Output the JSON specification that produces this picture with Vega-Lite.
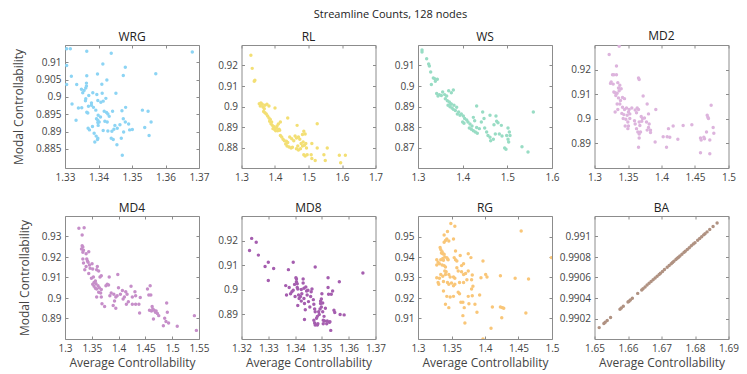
{
"$schema": "https://vega.github.io/schema/vega-lite/v6.json",
"padding": {"left": 12, "top": 8, "right": 8, "bottom": 3},
"title": {"text": "Streamline Counts, 128 nodes", "fontSize": 11, "fontWeight": "normal", "font": "Open Sans", "color": "#222", "anchor": "middle", "offset": 10, "dx": 15},
"config": {
 "font": "Open Sans",
 "view": {"stroke": "#8c8c8c", "strokeWidth": 1},
 "axis": {"grid": false, "domain": false, "tickColor": "#8c8c8c", "tickSize": -3, "labelPadding": 7, "labelFontSize": 10, "labelColor": "#444", "labelFont": "Open Sans", "titleFont": "Open Sans", "titleFontSize": 12, "titleFontWeight": "normal", "titleColor": "#444", "labelOverlap": false, "labelFlush": false},
 "title": {"fontSize": 12, "fontWeight": "normal", "font": "Open Sans", "color": "#222", "offset": 1},
 "circle": {"size": 12, "opacity": 1}
},
"datasets": {
"WRG": [{"x":1.3305,"y":0.9139},{"x":1.3316,"y":0.9139},{"x":1.3365,"y":0.9132},{"x":1.3438,"y":0.9126},{"x":1.368,"y":0.913},{"x":1.3305,"y":0.9091},{"x":1.3413,"y":0.9095},{"x":1.348,"y":0.9086},{"x":1.3365,"y":0.9061},{"x":1.3397,"y":0.9066},{"x":1.3319,"y":0.906},{"x":1.3474,"y":0.9062},{"x":1.3571,"y":0.9067},{"x":1.3425,"y":0.9049},{"x":1.341,"y":0.9037},{"x":1.3335,"y":0.9036},{"x":1.3305,"y":0.9036},{"x":1.3364,"y":0.904},{"x":1.3364,"y":0.9032},{"x":1.3362,"y":0.9026},{"x":1.3357,"y":0.9019},{"x":1.3353,"y":0.9012},{"x":1.3349,"y":0.9022},{"x":1.3383,"y":0.9012},{"x":1.3371,"y":0.9004},{"x":1.3395,"y":0.9007},{"x":1.3411,"y":0.9011},{"x":1.3452,"y":0.9011},{"x":1.3422,"y":0.8996},{"x":1.3362,"y":0.8995},{"x":1.3361,"y":0.8989},{"x":1.3398,"y":0.899},{"x":1.3407,"y":0.8985},{"x":1.3379,"y":0.8983},{"x":1.3379,"y":0.8976},{"x":1.3321,"y":0.898},{"x":1.3414,"y":0.8988},{"x":1.335,"y":0.8969},{"x":1.337,"y":0.8973},{"x":1.3385,"y":0.897},{"x":1.3365,"y":0.8956},{"x":1.3368,"y":0.8954},{"x":1.3417,"y":0.8959},{"x":1.3424,"y":0.8955},{"x":1.3428,"y":0.8951},{"x":1.3432,"y":0.8944},{"x":1.3442,"y":0.8959},{"x":1.347,"y":0.896},{"x":1.3481,"y":0.897},{"x":1.3531,"y":0.8962},{"x":1.3548,"y":0.8959},{"x":1.3392,"y":0.8962},{"x":1.3399,"y":0.8947},{"x":1.3406,"y":0.8942},{"x":1.3394,"y":0.8937},{"x":1.3398,"y":0.8933},{"x":1.3402,"y":0.8928},{"x":1.3398,"y":0.8926},{"x":1.3399,"y":0.8918},{"x":1.3382,"y":0.8915},{"x":1.3369,"y":0.891},{"x":1.3373,"y":0.8905},{"x":1.3419,"y":0.893},{"x":1.3426,"y":0.8928},{"x":1.3449,"y":0.8918},{"x":1.3456,"y":0.891},{"x":1.3446,"y":0.8907},{"x":1.344,"y":0.8901},{"x":1.3428,"y":0.8902},{"x":1.3414,"y":0.8903},{"x":1.3387,"y":0.8895},{"x":1.3393,"y":0.8887},{"x":1.3398,"y":0.8881},{"x":1.3397,"y":0.8877},{"x":1.3389,"y":0.887},{"x":1.3438,"y":0.8881},{"x":1.3444,"y":0.8877},{"x":1.3464,"y":0.892},{"x":1.3474,"y":0.8937},{"x":1.348,"y":0.8928},{"x":1.349,"y":0.8922},{"x":1.3493,"y":0.8905},{"x":1.3501,"y":0.8906},{"x":1.3475,"y":0.8899},{"x":1.3468,"y":0.8881},{"x":1.3455,"y":0.8862},{"x":1.3471,"y":0.8832},{"x":1.3551,"y":0.8889},{"x":1.3538,"y":0.8912},{"x":1.3557,"y":0.8928},{"x":1.3333,"y":0.8933},{"x":1.334,"y":0.8968}],
"RL": [{"x":1.328,"y":0.925},{"x":1.332,"y":0.9186},{"x":1.34,"y":0.9128},{"x":1.338,"y":0.9123},{"x":1.353,"y":0.9014},{"x":1.358,"y":0.9017},{"x":1.362,"y":0.9011},{"x":1.356,"y":0.9002},{"x":1.364,"y":0.8998},{"x":1.37,"y":0.9006},{"x":1.376,"y":0.9011},{"x":1.382,"y":0.9002},{"x":1.368,"y":0.8989},{"x":1.366,"y":0.8976},{"x":1.37,"y":0.897},{"x":1.374,"y":0.8963},{"x":1.378,"y":0.8954},{"x":1.382,"y":0.8944},{"x":1.386,"y":0.8937},{"x":1.39,"y":0.8924},{"x":1.384,"y":0.8928},{"x":1.388,"y":0.8916},{"x":1.392,"y":0.8908},{"x":1.396,"y":0.8902},{"x":1.4,"y":0.8895},{"x":1.394,"y":0.8892},{"x":1.398,"y":0.8889},{"x":1.404,"y":0.8895},{"x":1.406,"y":0.8905},{"x":1.41,"y":0.8915},{"x":1.416,"y":0.8924},{"x":1.412,"y":0.8889},{"x":1.414,"y":0.8884},{"x":1.408,"y":0.8882},{"x":1.402,"y":0.8882},{"x":1.4,"y":0.8993},{"x":1.438,"y":0.8944},{"x":1.466,"y":0.8908},{"x":1.526,"y":0.8916},{"x":1.416,"y":0.8859},{"x":1.42,"y":0.8851},{"x":1.424,"y":0.884},{"x":1.428,"y":0.8833},{"x":1.434,"y":0.883},{"x":1.438,"y":0.8824},{"x":1.432,"y":0.8817},{"x":1.436,"y":0.8807},{"x":1.442,"y":0.8802},{"x":1.448,"y":0.8798},{"x":1.452,"y":0.8801},{"x":1.444,"y":0.8851},{"x":1.45,"y":0.8843},{"x":1.456,"y":0.8833},{"x":1.46,"y":0.8856},{"x":1.464,"y":0.8846},{"x":1.47,"y":0.8851},{"x":1.474,"y":0.884},{"x":1.482,"y":0.8863},{"x":1.486,"y":0.8879},{"x":1.49,"y":0.8866},{"x":1.484,"y":0.8827},{"x":1.478,"y":0.8819},{"x":1.468,"y":0.8807},{"x":1.464,"y":0.8794},{"x":1.47,"y":0.8788},{"x":1.476,"y":0.8794},{"x":1.482,"y":0.8807},{"x":1.488,"y":0.8811},{"x":1.492,"y":0.8819},{"x":1.494,"y":0.8798},{"x":1.486,"y":0.8765},{"x":1.49,"y":0.8759},{"x":1.496,"y":0.8765},{"x":1.508,"y":0.8765},{"x":1.51,"y":0.8746},{"x":1.52,"y":0.8737},{"x":1.526,"y":0.8798},{"x":1.556,"y":0.8798},{"x":1.546,"y":0.8765},{"x":1.55,"y":0.8737},{"x":1.592,"y":0.8762},{"x":1.596,"y":0.8726},{"x":1.61,"y":0.8762},{"x":1.51,"y":0.882}],
"WS": [{"x":1.309,"y":0.9176},{"x":1.309,"y":0.9166},{"x":1.3194,"y":0.9133},{"x":1.3239,"y":0.9107},{"x":1.3254,"y":0.9098},{"x":1.3284,"y":0.9068},{"x":1.3343,"y":0.9039},{"x":1.3299,"y":0.9007},{"x":1.3373,"y":0.9036},{"x":1.3388,"y":0.9023},{"x":1.3433,"y":0.9033},{"x":1.3418,"y":0.8963},{"x":1.3478,"y":0.8958},{"x":1.3522,"y":0.8954},{"x":1.3448,"y":0.8951},{"x":1.3552,"y":0.8971},{"x":1.3597,"y":0.8958},{"x":1.3642,"y":0.8951},{"x":1.3687,"y":0.8977},{"x":1.3746,"y":0.8967},{"x":1.3791,"y":0.898},{"x":1.3612,"y":0.8938},{"x":1.3657,"y":0.8928},{"x":1.3701,"y":0.8922},{"x":1.3731,"y":0.8912},{"x":1.3672,"y":0.8906},{"x":1.3716,"y":0.8899},{"x":1.3761,"y":0.8893},{"x":1.3791,"y":0.8886},{"x":1.3836,"y":0.888},{"x":1.3746,"y":0.8912},{"x":1.3806,"y":0.8906},{"x":1.3866,"y":0.8896},{"x":1.391,"y":0.8873},{"x":1.3881,"y":0.8863},{"x":1.394,"y":0.8857},{"x":1.397,"y":0.8863},{"x":1.4015,"y":0.8854},{"x":1.4045,"y":0.8841},{"x":1.4,"y":0.8824},{"x":1.403,"y":0.8818},{"x":1.409,"y":0.8834},{"x":1.4119,"y":0.8824},{"x":1.4164,"y":0.8815},{"x":1.4209,"y":0.8805},{"x":1.4149,"y":0.8795},{"x":1.4194,"y":0.8789},{"x":1.4239,"y":0.8782},{"x":1.4284,"y":0.8776},{"x":1.4328,"y":0.8769},{"x":1.4313,"y":0.8798},{"x":1.4373,"y":0.8792},{"x":1.4269,"y":0.8831},{"x":1.4239,"y":0.8847},{"x":1.4313,"y":0.8902},{"x":1.4448,"y":0.8873},{"x":1.4478,"y":0.8841},{"x":1.4418,"y":0.8824},{"x":1.4493,"y":0.8795},{"x":1.4537,"y":0.8776},{"x":1.4567,"y":0.8759},{"x":1.4612,"y":0.875},{"x":1.4627,"y":0.8733},{"x":1.4687,"y":0.874},{"x":1.4731,"y":0.8766},{"x":1.4612,"y":0.8857},{"x":1.4746,"y":0.8854},{"x":1.4761,"y":0.8828},{"x":1.4791,"y":0.8821},{"x":1.4866,"y":0.8808},{"x":1.4701,"y":0.8811},{"x":1.4821,"y":0.8766},{"x":1.4881,"y":0.8756},{"x":1.494,"y":0.8698},{"x":1.497,"y":0.8691},{"x":1.5015,"y":0.8795},{"x":1.5045,"y":0.8776},{"x":1.506,"y":0.8759},{"x":1.5015,"y":0.874},{"x":1.503,"y":0.8727},{"x":1.4985,"y":0.8759},{"x":1.5328,"y":0.8704},{"x":1.5463,"y":0.8678},{"x":1.5582,"y":0.8873}],
"MD2": [{"x":1.3219,"y":0.9261},{"x":1.3368,"y":0.9295},{"x":1.3328,"y":0.9215},{"x":1.3269,"y":0.9179},{"x":1.3289,"y":0.9179},{"x":1.3328,"y":0.9179},{"x":1.3249,"y":0.915},{"x":1.3279,"y":0.9141},{"x":1.3239,"y":0.9144},{"x":1.3348,"y":0.9147},{"x":1.3378,"y":0.9136},{"x":1.3398,"y":0.9122},{"x":1.3358,"y":0.9125},{"x":1.3368,"y":0.9114},{"x":1.3338,"y":0.9104},{"x":1.3289,"y":0.9109},{"x":1.3308,"y":0.9106},{"x":1.3318,"y":0.9095},{"x":1.3358,"y":0.9085},{"x":1.3388,"y":0.9074},{"x":1.3418,"y":0.9087},{"x":1.3448,"y":0.9082},{"x":1.3378,"y":0.906},{"x":1.3338,"y":0.906},{"x":1.3308,"y":0.9028},{"x":1.3348,"y":0.9038},{"x":1.3418,"y":0.9047},{"x":1.3448,"y":0.9038},{"x":1.3478,"y":0.9044},{"x":1.3408,"y":0.9022},{"x":1.3428,"y":0.9001},{"x":1.3438,"y":0.9017},{"x":1.3468,"y":0.8998},{"x":1.3488,"y":0.9014},{"x":1.3507,"y":0.9028},{"x":1.3517,"y":0.9038},{"x":1.3557,"y":0.9044},{"x":1.3527,"y":0.9001},{"x":1.3498,"y":0.8987},{"x":1.3507,"y":0.8971},{"x":1.3498,"y":0.896},{"x":1.3458,"y":0.8971},{"x":1.3527,"y":0.902},{"x":1.3607,"y":0.9036},{"x":1.3637,"y":0.9044},{"x":1.3627,"y":0.9025},{"x":1.3657,"y":0.9038},{"x":1.3597,"y":0.8992},{"x":1.3607,"y":0.8979},{"x":1.3627,"y":0.896},{"x":1.3647,"y":0.8946},{"x":1.3667,"y":0.8938},{"x":1.3687,"y":0.8946},{"x":1.3677,"y":0.8973},{"x":1.3667,"y":0.8987},{"x":1.3706,"y":0.899},{"x":1.3716,"y":0.9001},{"x":1.3697,"y":0.9009},{"x":1.3746,"y":0.9003},{"x":1.3776,"y":0.8987},{"x":1.3806,"y":0.902},{"x":1.3816,"y":0.8979},{"x":1.3806,"y":0.8965},{"x":1.3786,"y":0.8954},{"x":1.3836,"y":0.8954},{"x":1.3836,"y":0.8944},{"x":1.3667,"y":0.8922},{"x":1.3657,"y":0.8884},{"x":1.3657,"y":0.9166},{"x":1.3667,"y":0.916},{"x":1.3726,"y":0.9093},{"x":1.3786,"y":0.906},{"x":1.3915,"y":0.9038},{"x":1.3905,"y":0.8906},{"x":1.4025,"y":0.8927},{"x":1.4085,"y":0.8927},{"x":1.4075,"y":0.8884},{"x":1.4124,"y":0.8925},{"x":1.4104,"y":0.896},{"x":1.4174,"y":0.8971},{"x":1.4244,"y":0.8917},{"x":1.4323,"y":0.8973},{"x":1.4453,"y":0.8976},{"x":1.4582,"y":0.8922},{"x":1.4592,"y":0.8914},{"x":1.4582,"y":0.8862},{"x":1.4632,"y":0.8925},{"x":1.4672,"y":0.8946},{"x":1.4682,"y":0.9014},{"x":1.4692,"y":0.9006},{"x":1.4701,"y":0.9001},{"x":1.4721,"y":0.8914},{"x":1.4741,"y":0.9055},{"x":1.4771,"y":0.8965},{"x":1.4781,"y":0.8941},{"x":1.4721,"y":0.8858},{"x":1.4642,"y":0.8919}],
"MD4": [{"x":1.3259,"y":0.934},{"x":1.3357,"y":0.9343},{"x":1.332,"y":0.9307},{"x":1.332,"y":0.9255},{"x":1.3333,"y":0.9249},{"x":1.3308,"y":0.9239},{"x":1.3345,"y":0.9233},{"x":1.3333,"y":0.9223},{"x":1.3394,"y":0.9216},{"x":1.3443,"y":0.9226},{"x":1.3333,"y":0.919},{"x":1.3345,"y":0.9171},{"x":1.3406,"y":0.919},{"x":1.3419,"y":0.918},{"x":1.3431,"y":0.9174},{"x":1.3456,"y":0.9161},{"x":1.3394,"y":0.9154},{"x":1.3369,"y":0.9138},{"x":1.3443,"y":0.9119},{"x":1.3468,"y":0.9145},{"x":1.3505,"y":0.9167},{"x":1.3493,"y":0.9096},{"x":1.3517,"y":0.9141},{"x":1.353,"y":0.9102},{"x":1.3542,"y":0.9076},{"x":1.3567,"y":0.9083},{"x":1.3517,"y":0.9067},{"x":1.3542,"y":0.9057},{"x":1.3579,"y":0.907},{"x":1.3603,"y":0.9154},{"x":1.3591,"y":0.9138},{"x":1.3628,"y":0.9132},{"x":1.3653,"y":0.9102},{"x":1.3677,"y":0.9109},{"x":1.3567,"y":0.9047},{"x":1.3591,"y":0.9044},{"x":1.3616,"y":0.906},{"x":1.364,"y":0.905},{"x":1.3677,"y":0.9041},{"x":1.3628,"y":0.9028},{"x":1.3665,"y":0.9024},{"x":1.3677,"y":0.9005},{"x":1.3591,"y":0.9005},{"x":1.369,"y":0.8972},{"x":1.3739,"y":0.8959},{"x":1.3764,"y":0.906},{"x":1.3788,"y":0.9067},{"x":1.3813,"y":0.9063},{"x":1.3825,"y":0.9102},{"x":1.3837,"y":0.9011},{"x":1.3862,"y":0.9024},{"x":1.3911,"y":0.9018},{"x":1.3924,"y":0.8985},{"x":1.3948,"y":0.9005},{"x":1.3973,"y":0.9011},{"x":1.3899,"y":0.8963},{"x":1.3948,"y":0.895},{"x":1.3985,"y":0.9115},{"x":1.3998,"y":0.905},{"x":1.4034,"y":0.9018},{"x":1.4071,"y":0.9037},{"x":1.4084,"y":0.8995},{"x":1.4108,"y":0.9005},{"x":1.4133,"y":0.9031},{"x":1.4158,"y":0.9018},{"x":1.4145,"y":0.8969},{"x":1.4182,"y":0.8982},{"x":1.4232,"y":0.9057},{"x":1.4256,"y":0.9005},{"x":1.4256,"y":0.8969},{"x":1.4305,"y":0.9031},{"x":1.4318,"y":0.9011},{"x":1.4318,"y":0.8969},{"x":1.4379,"y":0.8969},{"x":1.4404,"y":0.9002},{"x":1.4392,"y":0.8927},{"x":1.4539,"y":0.9044},{"x":1.4564,"y":0.9015},{"x":1.4589,"y":0.906},{"x":1.4601,"y":0.9015},{"x":1.4576,"y":0.894},{"x":1.4613,"y":0.8937},{"x":1.4626,"y":0.8959},{"x":1.4638,"y":0.8946},{"x":1.465,"y":0.8898},{"x":1.4663,"y":0.894},{"x":1.4687,"y":0.893},{"x":1.47,"y":0.8937},{"x":1.4724,"y":0.8924},{"x":1.4749,"y":0.8914},{"x":1.4835,"y":0.8865},{"x":1.486,"y":0.8901},{"x":1.4884,"y":0.8885},{"x":1.4897,"y":0.8976},{"x":1.4909,"y":0.893},{"x":1.4933,"y":0.8878},{"x":1.5094,"y":0.8862},{"x":1.5414,"y":0.8914},{"x":1.5451,"y":0.8842}],
"MD8": [{"x":1.323,"y":0.916},{"x":1.3238,"y":0.9209},{"x":1.3255,"y":0.9193},{"x":1.3263,"y":0.9141},{"x":1.3288,"y":0.9095},{"x":1.33,"y":0.9112},{"x":1.33,"y":0.9038},{"x":1.332,"y":0.9087},{"x":1.3365,"y":0.9017},{"x":1.3368,"y":0.8979},{"x":1.3375,"y":0.9082},{"x":1.3378,"y":0.9009},{"x":1.3383,"y":0.8984},{"x":1.3388,"y":0.8992},{"x":1.3393,"y":0.9112},{"x":1.3393,"y":0.8998},{"x":1.3398,"y":0.9022},{"x":1.34,"y":0.8973},{"x":1.3403,"y":0.9049},{"x":1.3405,"y":0.9044},{"x":1.3405,"y":0.9033},{"x":1.3408,"y":0.9025},{"x":1.3408,"y":0.9009},{"x":1.341,"y":0.9003},{"x":1.3413,"y":0.8979},{"x":1.3415,"y":0.8965},{"x":1.341,"y":0.8936},{"x":1.342,"y":0.8973},{"x":1.3423,"y":0.9001},{"x":1.3423,"y":0.8954},{"x":1.3425,"y":0.8984},{"x":1.343,"y":0.9028},{"x":1.343,"y":0.9044},{"x":1.3433,"y":0.9006},{"x":1.3433,"y":0.8965},{"x":1.3435,"y":0.8944},{"x":1.3438,"y":0.8919},{"x":1.3435,"y":0.8879},{"x":1.344,"y":0.9011},{"x":1.3443,"y":0.8995},{"x":1.3445,"y":0.8979},{"x":1.3448,"y":0.8998},{"x":1.345,"y":0.8952},{"x":1.3455,"y":0.893},{"x":1.3458,"y":0.8973},{"x":1.346,"y":0.8992},{"x":1.3463,"y":0.9003},{"x":1.3468,"y":0.896},{"x":1.347,"y":0.8941},{"x":1.3473,"y":0.8922},{"x":1.3475,"y":0.9093},{"x":1.3475,"y":0.8911},{"x":1.347,"y":0.8876},{"x":1.3473,"y":0.8865},{"x":1.3475,"y":0.8857},{"x":1.348,"y":0.8884},{"x":1.3483,"y":0.8892},{"x":1.3483,"y":0.8857},{"x":1.3485,"y":0.8862},{"x":1.3488,"y":0.8911},{"x":1.349,"y":0.89},{"x":1.3493,"y":0.8922},{"x":1.3495,"y":0.8944},{"x":1.3495,"y":0.8954},{"x":1.3498,"y":0.8963},{"x":1.3498,"y":0.893},{"x":1.35,"y":0.8984},{"x":1.3503,"y":0.8946},{"x":1.3503,"y":0.8911},{"x":1.3505,"y":0.8876},{"x":1.3505,"y":0.8862},{"x":1.351,"y":0.8873},{"x":1.3508,"y":0.8892},{"x":1.3513,"y":0.8925},{"x":1.3518,"y":0.8862},{"x":1.352,"y":0.8873},{"x":1.3523,"y":0.9049},{"x":1.3523,"y":0.9009},{"x":1.3525,"y":0.8982},{"x":1.3528,"y":0.8868},{"x":1.353,"y":0.887},{"x":1.3533,"y":0.8835},{"x":1.3535,"y":0.8982},{"x":1.354,"y":0.8995},{"x":1.3545,"y":0.8917},{"x":1.3548,"y":0.8908},{"x":1.3565,"y":0.9033},{"x":1.3568,"y":0.89},{"x":1.3583,"y":0.8898},{"x":1.3653,"y":0.9068}],
"RG": [{"x":1.349,"y":0.9563},{"x":1.355,"y":0.955},{"x":1.344,"y":0.9524},{"x":1.339,"y":0.9507},{"x":1.343,"y":0.9488},{"x":1.341,"y":0.9481},{"x":1.346,"y":0.9478},{"x":1.339,"y":0.9472},{"x":1.353,"y":0.9488},{"x":1.333,"y":0.9446},{"x":1.334,"y":0.9436},{"x":1.336,"y":0.9426},{"x":1.335,"y":0.942},{"x":1.337,"y":0.9416},{"x":1.339,"y":0.9413},{"x":1.34,"y":0.94},{"x":1.337,"y":0.9393},{"x":1.343,"y":0.9397},{"x":1.345,"y":0.9387},{"x":1.338,"y":0.9384},{"x":1.334,"y":0.9387},{"x":1.328,"y":0.9387},{"x":1.33,"y":0.9374},{"x":1.332,"y":0.9367},{"x":1.328,"y":0.9361},{"x":1.336,"y":0.9361},{"x":1.339,"y":0.9358},{"x":1.341,"y":0.9351},{"x":1.344,"y":0.939},{"x":1.354,"y":0.9397},{"x":1.356,"y":0.9429},{"x":1.356,"y":0.9387},{"x":1.358,"y":0.938},{"x":1.363,"y":0.9407},{"x":1.365,"y":0.9358},{"x":1.368,"y":0.9367},{"x":1.375,"y":0.9416},{"x":1.379,"y":0.9397},{"x":1.358,"y":0.9348},{"x":1.36,"y":0.9332},{"x":1.365,"y":0.9328},{"x":1.368,"y":0.9315},{"x":1.371,"y":0.9319},{"x":1.375,"y":0.9332},{"x":1.381,"y":0.9312},{"x":1.38,"y":0.9289},{"x":1.373,"y":0.9289},{"x":1.368,"y":0.9276},{"x":1.362,"y":0.9276},{"x":1.355,"y":0.9267},{"x":1.353,"y":0.926},{"x":1.35,"y":0.9273},{"x":1.346,"y":0.9267},{"x":1.344,"y":0.9276},{"x":1.338,"y":0.928},{"x":1.337,"y":0.9306},{"x":1.334,"y":0.9315},{"x":1.332,"y":0.9296},{"x":1.328,"y":0.9299},{"x":1.33,"y":0.9276},{"x":1.331,"y":0.9267},{"x":1.341,"y":0.9315},{"x":1.346,"y":0.9315},{"x":1.348,"y":0.9302},{"x":1.342,"y":0.9328},{"x":1.34,"y":0.9332},{"x":1.353,"y":0.9302},{"x":1.355,"y":0.9296},{"x":1.338,"y":0.9234},{"x":1.343,"y":0.9208},{"x":1.341,"y":0.9169},{"x":1.348,"y":0.9205},{"x":1.346,"y":0.9153},{"x":1.353,"y":0.9208},{"x":1.36,"y":0.9228},{"x":1.362,"y":0.9221},{"x":1.364,"y":0.9179},{"x":1.367,"y":0.9179},{"x":1.369,"y":0.9153},{"x":1.367,"y":0.9114},{"x":1.37,"y":0.9078},{"x":1.375,"y":0.9208},{"x":1.376,"y":0.9172},{"x":1.381,"y":0.9211},{"x":1.38,"y":0.9244},{"x":1.382,"y":0.9257},{"x":1.385,"y":0.9169},{"x":1.388,"y":0.913},{"x":1.392,"y":0.9215},{"x":1.397,"y":0.938},{"x":1.394,"y":0.9299},{"x":1.401,"y":0.9315},{"x":1.403,"y":0.9302},{"x":1.411,"y":0.9156},{"x":1.423,"y":0.9309},{"x":1.423,"y":0.9156},{"x":1.425,"y":0.9104},{"x":1.426,"y":0.9153},{"x":1.428,"y":0.915},{"x":1.445,"y":0.9296},{"x":1.454,"y":0.9527},{"x":1.461,"y":0.9127},{"x":1.465,"y":0.9293},{"x":1.499,"y":0.9397},{"x":1.409,"y":0.9052},{"x":1.397,"y":0.9}],
"BA": [{"x":1.6514,"y":0.990111},{"x":1.6528,"y":0.990152},{"x":1.6532,"y":0.990163},{"x":1.6538,"y":0.990181},{"x":1.6548,"y":0.99021},{"x":1.6576,"y":0.990291},{"x":1.658,"y":0.990302},{"x":1.6586,"y":0.99032},{"x":1.66,"y":0.99036},{"x":1.6603,"y":0.990369},{"x":1.6607,"y":0.990381},{"x":1.6613,"y":0.990398},{"x":1.6629,"y":0.990445},{"x":1.6641,"y":0.990479},{"x":1.6645,"y":0.990491},{"x":1.6651,"y":0.990508},{"x":1.6657,"y":0.990526},{"x":1.6663,"y":0.990543},{"x":1.6669,"y":0.990561},{"x":1.6675,"y":0.990578},{"x":1.6681,"y":0.990595},{"x":1.6687,"y":0.990613},{"x":1.6693,"y":0.99063},{"x":1.6697,"y":0.990642},{"x":1.6703,"y":0.990659},{"x":1.6709,"y":0.990677},{"x":1.6717,"y":0.9907},{"x":1.6723,"y":0.990717},{"x":1.6729,"y":0.990735},{"x":1.6733,"y":0.990746},{"x":1.6737,"y":0.990758},{"x":1.6743,"y":0.990775},{"x":1.6747,"y":0.990787},{"x":1.6751,"y":0.990798},{"x":1.6755,"y":0.99081},{"x":1.6761,"y":0.990827},{"x":1.6767,"y":0.990845},{"x":1.6771,"y":0.990856},{"x":1.6777,"y":0.990874},{"x":1.6783,"y":0.990891},{"x":1.6789,"y":0.990909},{"x":1.6795,"y":0.990926},{"x":1.68,"y":0.99094},{"x":1.6808,"y":0.990964},{"x":1.6814,"y":0.990981},{"x":1.682,"y":0.990998},{"x":1.6826,"y":0.991016},{"x":1.683,"y":0.991027},{"x":1.6836,"y":0.991045},{"x":1.6844,"y":0.991068},{"x":1.6854,"y":0.991097},{"x":1.6866,"y":0.991132}]
},
"columns": 4,
"spacing": {"row": 48, "column": 42.5},
"bounds": "flush",
"concat": [
 {"width": 134, "height": 123, "title": "WRG", "data": {"name": "WRG"},
  "resolve": {"axis": {"x": "independent", "y": "independent"}},
  "layer": [
   {"mark": {"type": "circle", "color": "#8CD4F4", "clip": true},
    "encoding": {
     "x": {"field": "x", "type": "quantitative", "scale": {"domain": [1.33, 1.37], "nice": false, "zero": false}, "axis": {"values": [1.33, 1.34, 1.35, 1.36, 1.37], "format": "~g", "title": null}},
     "y": {"field": "y", "type": "quantitative", "scale": {"domain": [0.8795, 0.915], "nice": false, "zero": false}, "axis": {"values": [0.885, 0.89, 0.895, 0.9, 0.905, 0.91], "format": "~g", "title": "Modal Controllability", "titlePadding": 10}}}},
   {"mark": {"type": "circle", "opacity": 0},
    "encoding": {
     "x": {"field": "x", "type": "quantitative", "scale": {"domain": [1.33, 1.37], "nice": false, "zero": false}, "axis": {"orient": "top", "values": [1.33, 1.34, 1.35, 1.36, 1.37], "labels": false, "title": null}},
     "y": {"field": "y", "type": "quantitative", "scale": {"domain": [0.8795, 0.915], "nice": false, "zero": false}, "axis": {"orient": "right", "values": [0.885, 0.89, 0.895, 0.9, 0.905, 0.91], "labels": false, "title": null}}}}
  ]},
 {"width": 134, "height": 123, "title": "RL", "data": {"name": "RL"},
  "resolve": {"axis": {"x": "independent", "y": "independent"}},
  "layer": [
   {"mark": {"type": "circle", "color": "#F3DF74", "clip": true},
    "encoding": {
     "x": {"field": "x", "type": "quantitative", "scale": {"domain": [1.3, 1.7], "nice": false, "zero": false}, "axis": {"values": [1.3, 1.4, 1.5, 1.6, 1.7], "format": "~g", "title": null}},
     "y": {"field": "y", "type": "quantitative", "scale": {"domain": [0.87, 0.93], "nice": false, "zero": false}, "axis": {"values": [0.88, 0.89, 0.9, 0.91, 0.92], "format": "~g", "title": null}}}},
   {"mark": {"type": "circle", "opacity": 0},
    "encoding": {
     "x": {"field": "x", "type": "quantitative", "scale": {"domain": [1.3, 1.7], "nice": false, "zero": false}, "axis": {"orient": "top", "values": [1.3, 1.4, 1.5, 1.6, 1.7], "labels": false, "title": null}},
     "y": {"field": "y", "type": "quantitative", "scale": {"domain": [0.87, 0.93], "nice": false, "zero": false}, "axis": {"orient": "right", "values": [0.88, 0.89, 0.9, 0.91, 0.92], "labels": false, "title": null}}}}
  ]},
 {"width": 134, "height": 123, "title": "WS", "data": {"name": "WS"},
  "resolve": {"axis": {"x": "independent", "y": "independent"}},
  "layer": [
   {"mark": {"type": "circle", "color": "#98DCC4", "clip": true},
    "encoding": {
     "x": {"field": "x", "type": "quantitative", "scale": {"domain": [1.3, 1.6], "nice": false, "zero": false}, "axis": {"values": [1.3, 1.4, 1.5, 1.6], "format": "~g", "title": null}},
     "y": {"field": "y", "type": "quantitative", "scale": {"domain": [0.86, 0.92], "nice": false, "zero": false}, "axis": {"values": [0.87, 0.88, 0.89, 0.9, 0.91], "format": "~g", "title": null}}}},
   {"mark": {"type": "circle", "opacity": 0},
    "encoding": {
     "x": {"field": "x", "type": "quantitative", "scale": {"domain": [1.3, 1.6], "nice": false, "zero": false}, "axis": {"orient": "top", "values": [1.3, 1.4, 1.5, 1.6], "labels": false, "title": null}},
     "y": {"field": "y", "type": "quantitative", "scale": {"domain": [0.86, 0.92], "nice": false, "zero": false}, "axis": {"orient": "right", "values": [0.87, 0.88, 0.89, 0.9, 0.91], "labels": false, "title": null}}}}
  ]},
 {"width": 134, "height": 123, "title": "MD2", "data": {"name": "MD2"},
  "resolve": {"axis": {"x": "independent", "y": "independent"}},
  "layer": [
   {"mark": {"type": "circle", "color": "#DDB4DD", "clip": true},
    "encoding": {
     "x": {"field": "x", "type": "quantitative", "scale": {"domain": [1.3, 1.5], "nice": false, "zero": false}, "axis": {"values": [1.3, 1.35, 1.4, 1.45, 1.5], "format": "~g", "title": null}},
     "y": {"field": "y", "type": "quantitative", "scale": {"domain": [0.88, 0.93], "nice": false, "zero": false}, "axis": {"values": [0.89, 0.9, 0.91, 0.92], "format": "~g", "title": null}}}},
   {"mark": {"type": "circle", "opacity": 0},
    "encoding": {
     "x": {"field": "x", "type": "quantitative", "scale": {"domain": [1.3, 1.5], "nice": false, "zero": false}, "axis": {"orient": "top", "values": [1.3, 1.35, 1.4, 1.45, 1.5], "labels": false, "title": null}},
     "y": {"field": "y", "type": "quantitative", "scale": {"domain": [0.88, 0.93], "nice": false, "zero": false}, "axis": {"orient": "right", "values": [0.89, 0.9, 0.91, 0.92], "labels": false, "title": null}}}}
  ]},
 {"width": 134, "height": 123, "title": "MD4", "data": {"name": "MD4"},
  "resolve": {"axis": {"x": "independent", "y": "independent"}},
  "layer": [
   {"mark": {"type": "circle", "color": "#C68EC9", "clip": true},
    "encoding": {
     "x": {"field": "x", "type": "quantitative", "scale": {"domain": [1.3, 1.55], "nice": false, "zero": false}, "axis": {"values": [1.3, 1.35, 1.4, 1.45, 1.5, 1.55], "format": "~g", "title": "Average Controllability", "titlePadding": 4}},
     "y": {"field": "y", "type": "quantitative", "scale": {"domain": [0.88, 0.94], "nice": false, "zero": false}, "axis": {"values": [0.89, 0.9, 0.91, 0.92, 0.93], "format": "~g", "title": "Modal Controllability", "titlePadding": 10}}}},
   {"mark": {"type": "circle", "opacity": 0},
    "encoding": {
     "x": {"field": "x", "type": "quantitative", "scale": {"domain": [1.3, 1.55], "nice": false, "zero": false}, "axis": {"orient": "top", "values": [1.3, 1.35, 1.4, 1.45, 1.5, 1.55], "labels": false, "title": null}},
     "y": {"field": "y", "type": "quantitative", "scale": {"domain": [0.88, 0.94], "nice": false, "zero": false}, "axis": {"orient": "right", "values": [0.89, 0.9, 0.91, 0.92, 0.93], "labels": false, "title": null}}}}
  ]},
 {"width": 134, "height": 123, "title": "MD8", "data": {"name": "MD8"},
  "resolve": {"axis": {"x": "independent", "y": "independent"}},
  "layer": [
   {"mark": {"type": "circle", "color": "#A55EAF", "clip": true},
    "encoding": {
     "x": {"field": "x", "type": "quantitative", "scale": {"domain": [1.32, 1.37], "nice": false, "zero": false}, "axis": {"values": [1.32, 1.33, 1.34, 1.35, 1.36, 1.37], "format": "~g", "title": "Average Controllability", "titlePadding": 4}},
     "y": {"field": "y", "type": "quantitative", "scale": {"domain": [0.88, 0.93], "nice": false, "zero": false}, "axis": {"values": [0.89, 0.9, 0.91, 0.92], "format": "~g", "title": null}}}},
   {"mark": {"type": "circle", "opacity": 0},
    "encoding": {
     "x": {"field": "x", "type": "quantitative", "scale": {"domain": [1.32, 1.37], "nice": false, "zero": false}, "axis": {"orient": "top", "values": [1.32, 1.33, 1.34, 1.35, 1.36, 1.37], "labels": false, "title": null}},
     "y": {"field": "y", "type": "quantitative", "scale": {"domain": [0.88, 0.93], "nice": false, "zero": false}, "axis": {"orient": "right", "values": [0.89, 0.9, 0.91, 0.92], "labels": false, "title": null}}}}
  ]},
 {"width": 134, "height": 123, "title": "RG", "data": {"name": "RG"},
  "resolve": {"axis": {"x": "independent", "y": "independent"}},
  "layer": [
   {"mark": {"type": "circle", "color": "#F9C678", "clip": true},
    "encoding": {
     "x": {"field": "x", "type": "quantitative", "scale": {"domain": [1.3, 1.5], "nice": false, "zero": false}, "axis": {"values": [1.3, 1.35, 1.4, 1.45, 1.5], "format": "~g", "title": "Average Controllability", "titlePadding": 4}},
     "y": {"field": "y", "type": "quantitative", "scale": {"domain": [0.9, 0.96], "nice": false, "zero": false}, "axis": {"values": [0.91, 0.92, 0.93, 0.94, 0.95], "format": "~g", "title": null}}}},
   {"mark": {"type": "circle", "opacity": 0},
    "encoding": {
     "x": {"field": "x", "type": "quantitative", "scale": {"domain": [1.3, 1.5], "nice": false, "zero": false}, "axis": {"orient": "top", "values": [1.3, 1.35, 1.4, 1.45, 1.5], "labels": false, "title": null}},
     "y": {"field": "y", "type": "quantitative", "scale": {"domain": [0.9, 0.96], "nice": false, "zero": false}, "axis": {"orient": "right", "values": [0.91, 0.92, 0.93, 0.94, 0.95], "labels": false, "title": null}}}}
  ]},
 {"width": 134, "height": 123, "title": "BA", "data": {"name": "BA"},
  "resolve": {"axis": {"x": "independent", "y": "independent"}},
  "layer": [
   {"mark": {"type": "circle", "color": "#B09282", "clip": true},
    "encoding": {
     "x": {"field": "x", "type": "quantitative", "scale": {"domain": [1.65, 1.69], "nice": false, "zero": false}, "axis": {"values": [1.65, 1.66, 1.67, 1.68, 1.69], "format": "~g", "title": "Average Controllability", "titlePadding": 4}},
     "y": {"field": "y", "type": "quantitative", "scale": {"domain": [0.99, 0.9912], "nice": false, "zero": false}, "axis": {"values": [0.9902, 0.9904, 0.9906, 0.9908, 0.991], "format": "~g", "title": null}}}},
   {"mark": {"type": "circle", "opacity": 0},
    "encoding": {
     "x": {"field": "x", "type": "quantitative", "scale": {"domain": [1.65, 1.69], "nice": false, "zero": false}, "axis": {"orient": "top", "values": [1.65, 1.66, 1.67, 1.68, 1.69], "labels": false, "title": null}},
     "y": {"field": "y", "type": "quantitative", "scale": {"domain": [0.99, 0.9912], "nice": false, "zero": false}, "axis": {"orient": "right", "values": [0.9902, 0.9904, 0.9906, 0.9908, 0.991], "labels": false, "title": null}}}}
  ]}
]
}
